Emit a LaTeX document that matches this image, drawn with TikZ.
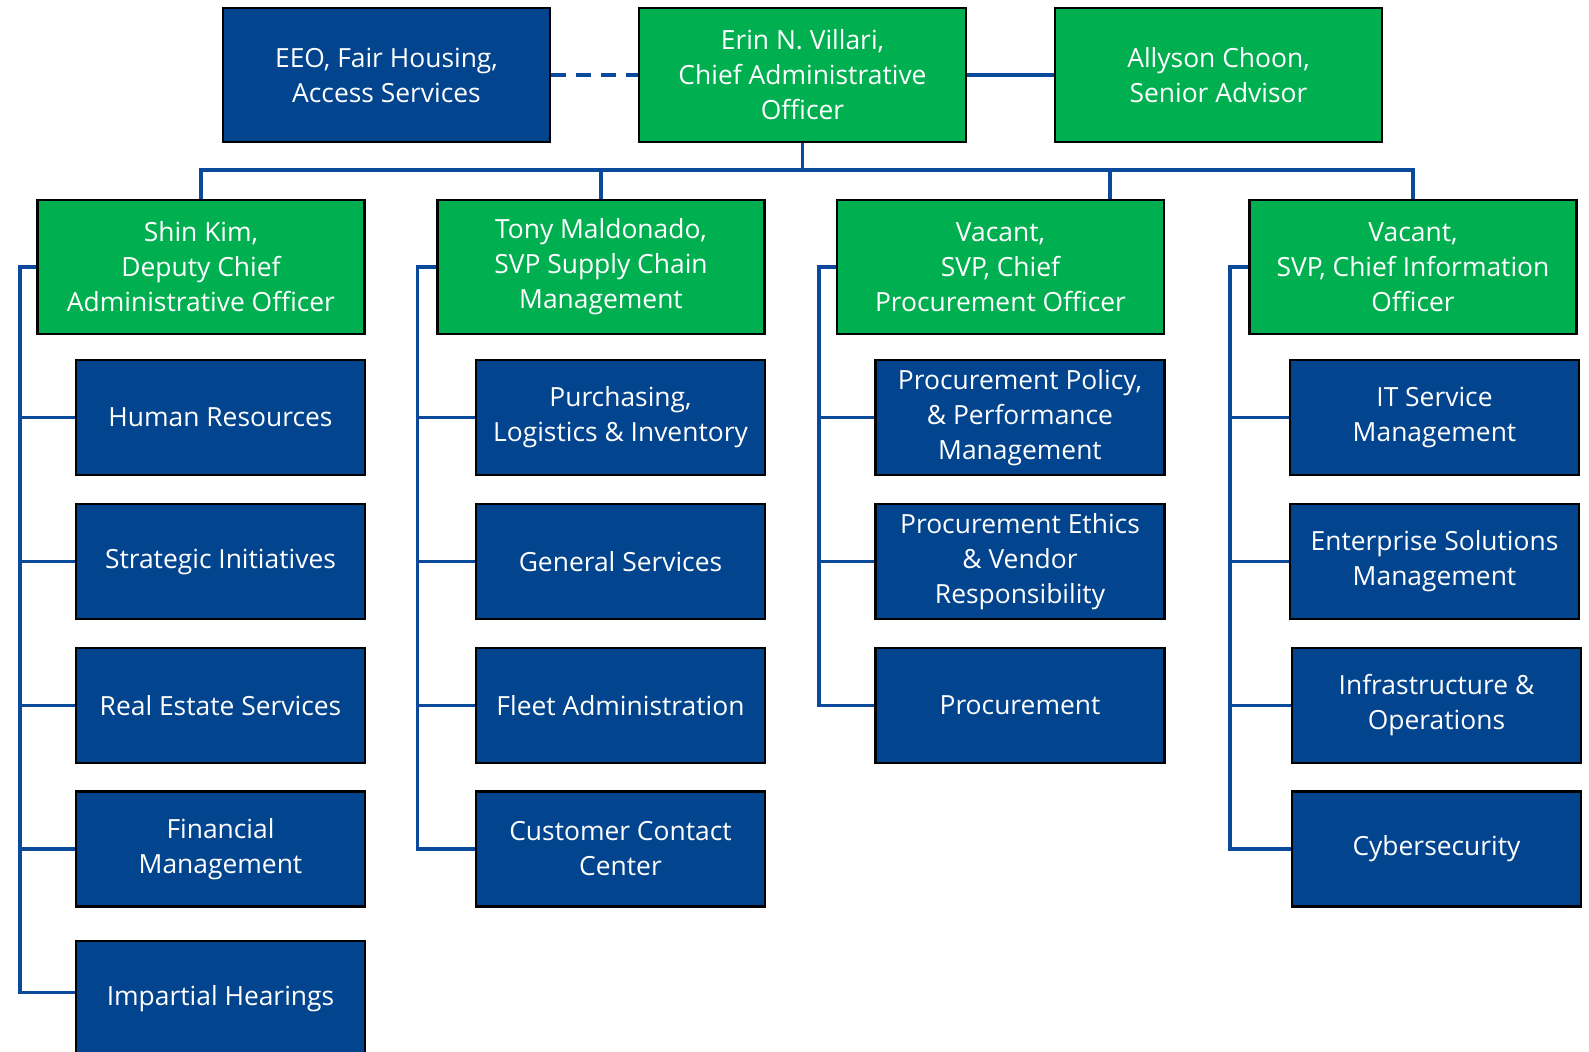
\documentclass[tikz,border=0pt]{standalone}
\usepackage{fontspec}
\setmainfont{Open Sans}
\usepackage{xcolor}
\usepackage{tikz}
\usetikzlibrary{calc,positioning}
\definecolor{orgGreen}{HTML}{00B050}
\definecolor{orgBlue}{HTML}{03448F}
\definecolor{orgLine}{HTML}{0B4A9A}

\begin{document}
\begin{tikzpicture}[
  x=0.5pt, y=-0.5pt,
  box/.style={
    draw=black, line width=1.4pt, fill=#1, text=white,
    align=center, inner sep=2pt,
    font=\fontsize{13.2}{17.5}\selectfont,
  },
  lead/.style={box=orgGreen, minimum width=163.5pt, minimum height=67pt},
  unit/.style={box=orgBlue, minimum width=144.5pt, minimum height=57.5pt},
  link/.style={draw=orgLine, line width=1.9pt},
]
\useasboundingbox (0,0) rectangle (1589,1052);
\clip (0,0) rectangle (1589,1052);

% Top row
\node[unit, minimum width=163.5pt, minimum height=67pt] (eeo) at (386.5, 75)
  {EEO, Fair Housing,\\Access Services};
\node[lead] (ceo) at (802.5, 75)
  {Erin N. Villari,\\Chief Administrative\\Officer};
\node[lead] (advisor) at (1218.5, 75)
  {Allyson Choon,\\Senior Advisor};

\draw[link, dash pattern=on 7.5pt off 5pt] (eeo.east) -- (ceo.west);
\draw[link] (ceo.east) -- (advisor.west);

% Second row
\node[lead] (dep) at (201, 267)
  {Shin Kim,\\Deputy Chief\\Administrative Officer};
\node[lead] (scm) at (601, 267)
  {Tony Maldonado,\\SVP Supply Chain\\Management};
\node[lead] (cpo) at (1000.5, 267)
  {Vacant,\\SVP, Chief\\Procurement Officer};
\node[lead] (cio) at (1413, 267)
  {Vacant,\\SVP, Chief Information\\Officer};

% Bus under the chief
\coordinate (bus) at (0, 170);
\draw[link] (ceo.south) -- (ceo.south |- bus);
\draw[link] (dep.north) -- (dep.north |- bus) -- (cio.north |- bus) -- (cio.north);
\draw[link] (scm.north) -- (scm.north |- bus);
\draw[link] ([xshift=54.75pt]cpo.north) -- ([xshift=54.75pt]cpo.north |- bus);

% Column 1
\node[unit] (hr)  at (220.5, 417.5) {Human Resources};
\node[unit] (si)  at (220.5, 561.5) {Strategic Initiatives};
\node[unit] (res) at (220.5, 705.5) {Real Estate Services};
\node[unit] (fin) at (220.5, 849)   {Financial\\Management};
\node[unit] (ih)  at (220.5, 998.5) {Impartial Hearings};

\coordinate (s1) at (20, 267);
\draw[link] (dep.west) -- (s1) |- ([yshift=3pt]ih.west);
\foreach \n in {hr, si, res, fin}
  \draw[link] (\n.west) -- (\n.west -| s1);

% Column 2
\node[unit] (pli)   at (620.5, 417.5) {Purchasing,\\Logistics \& Inventory};
\node[unit] (gs)    at (620.5, 561.5) {General Services};
\node[unit] (fleet) at (620.5, 705.5) {Fleet Administration};
\node[unit] (ccc)   at (620.5, 849)   {Customer Contact\\Center};

\coordinate (s2) at (417.5, 267);
\draw[link] (scm.west) -- (s2) |- (ccc.west);
\foreach \n in {pli, gs, fleet}
  \draw[link] (\n.west) -- (\n.west -| s2);

% Column 3
\node[unit] (ppm)  at (1020, 417.5) {Procurement Policy,\\\& Performance\\Management};
\node[unit] (pevr) at (1020, 561.5) {Procurement Ethics\\\& Vendor\\Responsibility};
\node[unit] (proc) at (1020, 705.5) {Procurement};

\coordinate (s3) at (819, 267);
\draw[link] (cpo.west) -- (s3) |- (proc.west);
\foreach \n in {ppm, pevr}
  \draw[link] (\n.west) -- (\n.west -| s3);

% Column 4
\node[unit] (itsm)  at (1434.5, 417.5) {IT Service\\Management};
\node[unit] (esm)   at (1434.5, 561.5) {Enterprise Solutions\\Management};
\node[unit] (io)    at (1436.5, 705.5) {Infrastructure \&\\Operations};
\node[unit] (cyber) at (1436.5, 849)   {Cybersecurity};

\coordinate (s4) at (1230, 267);
\draw[link] (cio.west) -- (s4) |- (cyber.west);
\foreach \n in {itsm, esm, io}
  \draw[link] (\n.west) -- (\n.west -| s4);

\end{tikzpicture}
\end{document}
